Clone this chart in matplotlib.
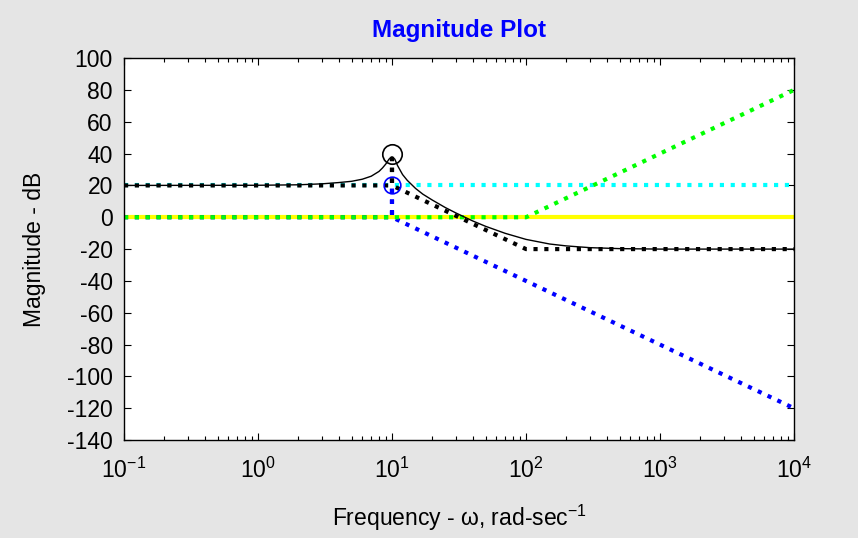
import matplotlib
matplotlib.use("Agg")
import matplotlib.pyplot as plt
from matplotlib.ticker import LogLocator, FixedLocator, LogFormatterMathtext

plt.rcParams['font.family'] = ['Liberation Sans', 'DejaVu Sans']
plt.rcParams['mathtext.fontset'] = 'custom'
plt.rcParams['mathtext.rm'] = 'Liberation Sans'
plt.rcParams['mathtext.it'] = 'Liberation Sans'
plt.rcParams['mathtext.bf'] = 'Liberation Sans:bold'
plt.rcParams['axes.unicode_minus'] = False

# ---- data ----
# constant gain term (cyan), dB
gain_w = [0.1, 1e4]
gain_db = [20, 20]
# yellow: 0 dB reference
zero_w = [0.1, 1e4]
zero_db = [0, 0]
# green: double zero at 100 rad/s asymptote
zeros_w = [0.1, 100, 1e4]
zeros_db = [0, 0, 80]
# blue: resonant pole pair at 10 rad/s asymptote
poles_w = [0.1, 10, 10, 10, 1e4]
poles_db = [0, 0, 20, 0, -120]
# black dotted: total asymptote
total_asym_w = [0.1, 10, 10, 10, 100, 1e4]
total_asym_db = [20, 20, 40, 20, -20, -20]
# black solid: actual magnitude
actual_w = [0.1, 1, 2, 3, 4, 5, 6, 7, 8, 8.5, 9, 9.5, 10, 10.5, 11, 12, 13, 15, 17, 20, 25, 30,
            40, 50, 70, 100, 150, 200, 300, 500, 1000, 1e4]
actual_db = [20, 20.1, 20.4, 21.0, 21.8, 22.6, 23.9, 25.8, 28.8, 31.0, 33.5, 36.5, 38.0, 36.5,
             32.5, 26.8, 23.2, 18.1, 14.5, 10.8, 6.1, 2.7, -2.3, -5.7, -10.1, -13.9, -16.8,
             -18.0, -19.1, -19.7, -20, -20]
# circles marking resonance peaks
peak_w = [10, 10]
peak_db = [40, 20]

fig = plt.figure(figsize=(8.58, 5.38), dpi=100, facecolor='#e5e5e5')
ax = fig.add_axes([0.1445, 0.182, 0.7809, 0.710])
ax.set_facecolor('white')

lw_dot = 3.0
dot = (0, (1, 1.6))
ax.plot(gain_w, gain_db, color='#00ffff', lw=lw_dot, ls=dot)
ax.plot(zero_w, zero_db, color='#ffff00', lw=3.0, ls='-')
ax.plot(poles_w, poles_db, color='#0000ff', lw=lw_dot, ls=dot)
ax.plot(zeros_w, zeros_db, color='#00ff00', lw=lw_dot, ls=dot)
ax.plot(total_asym_w, total_asym_db, color='black', lw=lw_dot, ls=dot)
ax.plot(actual_w, actual_db, color='black', lw=1.0)
ax.plot(peak_w[0], peak_db[0], marker='o', ms=14, mfc='none', mec='black', mew=1.2, ls='none')
ax.plot(peak_w[1], peak_db[1], marker='o', ms=12, mfc='none', mec='#0000ff', mew=1.2, ls='none')

ax.set_xscale('log')
ax.set_xlim(0.1, 1e4)
ax.set_ylim(-140, 100)
ax.yaxis.set_major_locator(FixedLocator(list(range(-140, 101, 20))))
ax.xaxis.set_major_locator(LogLocator(base=10, numticks=10))
ax.xaxis.set_minor_locator(LogLocator(base=10, subs=range(2, 10), numticks=20))
ax.xaxis.set_major_formatter(LogFormatterMathtext())
ax.tick_params(which='both', direction='in', top=True, right=True, labelsize=16.5, width=0.8)
ax.tick_params(which='major', length=5)
ax.tick_params(which='minor', length=3)
ax.tick_params(axis='y', which='major', pad=8)
ax.tick_params(axis='x', which='major', pad=13)
for s in ax.spines.values():
    s.set_linewidth(1.0)

ax.set_title('Magnitude Plot', color='#0000ff', fontweight='bold', fontsize=17.5, pad=15)
ax.set_ylabel('Magnitude - dB', fontsize=16.5, labelpad=15)
ax.set_xlabel(r'Frequency - ω, rad-sec$^{-1}$', fontsize=16.5, labelpad=14)

fig.savefig('out.png', dpi=100, facecolor=fig.get_facecolor())
